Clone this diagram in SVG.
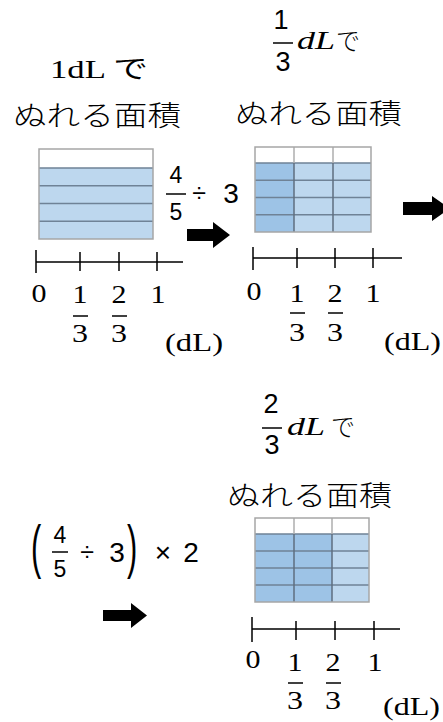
<svg xmlns="http://www.w3.org/2000/svg" width="443" height="722" viewBox="0 0 443 722">
<style>
text{fill:#000}
.jp{font-family:"Noto Sans CJK JP",sans-serif;font-size:28px;font-weight:300}
.ser{font-family:"Liberation Serif","Noto Sans CJK JP",serif;font-size:26px}
.num{font-family:"Liberation Serif",serif;font-size:25px;text-anchor:middle}
.unit{font-family:"Liberation Serif",serif;font-size:25px}
.sans{font-family:"Liberation Sans",Arial,sans-serif}
.it{font-family:"Liberation Serif",serif;font-style:italic;font-size:25px}
.mid{text-anchor:middle}
.lt{fill:#BDD7EE}
.dk{fill:#9DC3E6}
.row{stroke:#6F8296;stroke-width:1.5}
.colw{stroke:#AFAFAF;stroke-width:1.5}
.colb{stroke:#5F6F80;stroke-width:1.5}
.frame{fill:none;stroke:#A6A6A6;stroke-width:1.5}
.axis{stroke:#000;stroke-width:1.5;fill:none}
.bar{stroke:#000;stroke-width:1.5}
.arrow{fill:#000}
</style>

<g id="panel1">
  <text class="ser" x="50" y="78" textLength="98" lengthAdjust="spacingAndGlyphs">1dL で</text>
  <text class="jp" x="13" y="126" textLength="168" lengthAdjust="spacingAndGlyphs">ぬれる面積</text>
  <rect x="39" y="149" width="114" height="90" fill="#fff"/>
  <rect x="39" y="168" width="114" height="71" class="lt"/>
  <path class="row" d="M39 168H153M39 185.75H153M39 203.5H153M39 221.25H153"/>
  <rect x="39" y="149" width="114" height="90" class="frame"/>
  <path class="axis" d="M36 262H183M36 250V273M80 252V271M119 252V271M157 252V271"/>
  <text class="num" x="39" y="302" textLength="15" lengthAdjust="spacingAndGlyphs">0</text>
  <text class="num" x="80" y="303" textLength="15" lengthAdjust="spacingAndGlyphs">1</text>
  <path class="bar" d="M73 316H88"/>
  <text class="num" x="80" y="342" textLength="16" lengthAdjust="spacingAndGlyphs">3</text>
  <text class="num" x="119" y="303" textLength="15" lengthAdjust="spacingAndGlyphs">2</text>
  <path class="bar" d="M112 316H127"/>
  <text class="num" x="119" y="342" textLength="16" lengthAdjust="spacingAndGlyphs">3</text>
  <text class="num" x="158" y="303" textLength="15" lengthAdjust="spacingAndGlyphs">1</text>
  <text class="unit" x="165" y="351" textLength="58" lengthAdjust="spacingAndGlyphs">(dL)</text>
</g>

<g id="formula1">
  <text class="sans mid" x="176" y="183" font-size="23">4</text>
  <path class="bar" d="M166 194H186"/>
  <text class="sans mid" x="176" y="220" font-size="23">5</text>
  <text class="sans mid" x="199" y="202" font-size="25">÷</text>
  <text class="sans mid" x="231" y="203" font-size="28">3</text>
</g>

<g id="panel2">
  <text class="sans mid" x="281" y="29" font-size="27">1</text>
  <path class="bar" d="M273 43H293"/>
  <text class="sans mid" x="283" y="71" font-size="27">3</text>
  <text class="it" x="297" y="49" textLength="38" lengthAdjust="spacingAndGlyphs">dL</text>
  <text class="jp" x="336" y="50" style="font-size:25px" textLength="24" lengthAdjust="spacingAndGlyphs">で</text>
  <text class="jp" x="235" y="124" textLength="167" lengthAdjust="spacingAndGlyphs">ぬれる面積</text>
  <rect x="255" y="147" width="116" height="85" fill="#fff"/>
  <rect x="255" y="163" width="39" height="69" class="dk"/>
  <rect x="294" y="163" width="77" height="69" class="lt"/>
  <path class="row" d="M255 163H371M255 180.25H371M255 197.5H371M255 214.75H371"/>
  <path class="colw" d="M294 147V163M333 147V163"/>
  <path class="colb" d="M294 163V232M333 163V232"/>
  <rect x="255" y="147" width="116" height="85" class="frame"/>
  <path class="axis" d="M253 258H402M253 247V270M297 248V268M335 248V268M373 248V268"/>
  <text class="num" x="254" y="300" textLength="15" lengthAdjust="spacingAndGlyphs">0</text>
  <text class="num" x="297" y="302" textLength="15" lengthAdjust="spacingAndGlyphs">1</text>
  <path class="bar" d="M290 313H305"/>
  <text class="num" x="297" y="341" textLength="16" lengthAdjust="spacingAndGlyphs">3</text>
  <text class="num" x="335" y="302" textLength="15" lengthAdjust="spacingAndGlyphs">2</text>
  <path class="bar" d="M328 313H343"/>
  <text class="num" x="335" y="341" textLength="16" lengthAdjust="spacingAndGlyphs">3</text>
  <text class="num" x="373" y="302" textLength="15" lengthAdjust="spacingAndGlyphs">1</text>
  <text class="unit" x="384" y="350" textLength="57" lengthAdjust="spacingAndGlyphs">(dL)</text>
</g>

<g id="formula2">
  <text class="sans" font-size="28" transform="translate(31,567) scale(1.1,2.1)">(</text>
  <text class="sans mid" x="60" y="543" font-size="23">4</text>
  <path class="bar" d="M52 552H68"/>
  <text class="sans mid" x="60" y="577" font-size="23">5</text>
  <text class="sans mid" x="87" y="561" font-size="25">÷</text>
  <text class="sans mid" x="117" y="562" font-size="28">3</text>
  <text class="sans" font-size="28" transform="translate(127,567) scale(1.1,2.1)">)</text>
  <text class="sans mid" x="163" y="562" font-size="28">×</text>
  <text class="sans mid" x="191" y="562" font-size="28">2</text>
</g>

<g id="panel3">
  <text class="sans mid" x="271" y="413" font-size="27">2</text>
  <path class="bar" d="M262 428H282"/>
  <text class="sans mid" x="272" y="454" font-size="27">3</text>
  <text class="it" x="287" y="435" textLength="38" lengthAdjust="spacingAndGlyphs">dL</text>
  <text class="jp" x="331" y="436" style="font-size:25px" textLength="24" lengthAdjust="spacingAndGlyphs">で</text>
  <text class="jp" x="227" y="506" textLength="165" lengthAdjust="spacingAndGlyphs">ぬれる面積</text>
  <rect x="255" y="518" width="114" height="84" fill="#fff"/>
  <rect x="255" y="534" width="77" height="68" class="dk"/>
  <rect x="332" y="534" width="37" height="68" class="lt"/>
  <path class="row" d="M255 534H369M255 551H369M255 568H369M255 585H369"/>
  <path class="colw" d="M294 518V534M332 518V534"/>
  <path class="colb" d="M294 534V602M332 534V602"/>
  <rect x="255" y="518" width="114" height="84" class="frame"/>
  <path class="axis" d="M252 629H400M252 617V642M296 621V640M335 621V640M374 621V640"/>
  <text class="num" x="253" y="668" textLength="15" lengthAdjust="spacingAndGlyphs">0</text>
  <text class="num" x="295" y="671" textLength="15" lengthAdjust="spacingAndGlyphs">1</text>
  <path class="bar" d="M288 683H303"/>
  <text class="num" x="295" y="709" textLength="16" lengthAdjust="spacingAndGlyphs">3</text>
  <text class="num" x="333" y="671" textLength="15" lengthAdjust="spacingAndGlyphs">2</text>
  <path class="bar" d="M326 683H341"/>
  <text class="num" x="333" y="709" textLength="16" lengthAdjust="spacingAndGlyphs">3</text>
  <text class="num" x="375" y="671" textLength="15" lengthAdjust="spacingAndGlyphs">1</text>
  <text class="unit" x="383" y="715" textLength="57" lengthAdjust="spacingAndGlyphs">(dL)</text>
</g>

<g id="connectors">
  <polygon class="arrow" points="187,229 213,229 213,222 230,235 213,248 213,241 187,241"/>
  <polygon class="arrow" points="403,202 432,202 432,196 450,208.5 432,221 432,215 403,215"/>
  <polygon class="arrow" points="103,610 131,610 131,603 147,615.5 131,628 131,621 103,621"/>
</g>
</svg>
